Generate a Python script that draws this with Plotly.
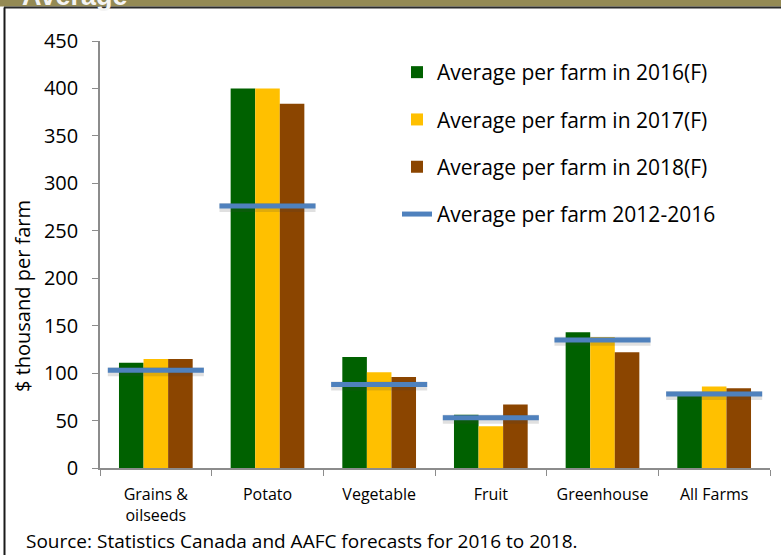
import plotly.graph_objects as go

# Average farm income by farm type, $ thousand per farm
categories = ["Grains &<br>oilseeds", "Potato", "Vegetable", "Fruit", "Greenhouse", "All Farms"]
avg_2016 = [111, 400, 117, 56, 143, 78]
avg_2017 = [115, 400, 101, 44, 138, 86]
avg_2018 = [115, 384, 96, 67, 122, 84]
avg_2012_2016 = [103, 276, 88, 53, 135, 78]

series_names = ["Average per farm in 2016(F)", "Average per farm in 2017(F)", "Average per farm in 2018(F)"]
series_colors = ["#006100", "#FFC000", "#8B4500"]
line_name = "Average per farm 2012-2016"
line_color = "#4F81BD"
y_title = "$ thousand per farm"
source_text = "Source: Statistics Canada and AAFC forecasts for 2016 to 2018."

FONT = "Open Sans"
W, H = 781, 555
ML, MR, MT, MB = 100, 11, 41, 87

fig = go.Figure()

for name, vals, col in zip(series_names, [avg_2016, avg_2017, avg_2018], series_colors):
    fig.add_trace(go.Bar(
        x=categories, y=vals, name=name, marker_color=col,
        marker_line_width=0, legendgroup=name,
    ))

# horizontal reference segments spanning each category group (numeric overlay axis)
half = 0.43
seg_x, seg_y = [], []
for i, v in enumerate(avg_2012_2016):
    seg_x += [i - half, i + half, None]
    seg_y += [v, v, None]

fig.add_trace(go.Scatter(
    x=seg_x, y=[None if v is None else v - 1.5 for v in seg_y], xaxis="x2",
    mode="lines", line=dict(color="rgba(60,60,60,0.16)", width=9),
    showlegend=False, hoverinfo="skip",
))
fig.add_trace(go.Scatter(
    x=seg_x, y=seg_y, xaxis="x2", mode="lines", name=line_name,
    line=dict(color=line_color, width=5), legendgroup=line_name,
))


def px_x(p):
    return (p - ML) / (W - ML - MR)


def px_y(p):
    return (H - MB - p) / (H - MT - MB)


shapes = [
    # olive header strip and its dark rule
    dict(type="rect", xref="paper", yref="paper", x0=px_x(0), x1=px_x(W), y0=px_y(6.5), y1=px_y(-2),
         fillcolor="#948A54", line_width=0, layer="below"),
    dict(type="line", xref="paper", yref="paper", x0=px_x(4), x1=px_x(W), y0=px_y(7.5), y1=px_y(7.5),
         line=dict(color="#2b2b2b", width=2), layer="above"),
    # left frame edge
    dict(type="line", xref="paper", yref="paper", x0=px_x(4.5), x1=px_x(4.5), y0=px_y(7.5), y1=px_y(H + 2),
         line=dict(color="#1a1a1a", width=2), layer="above"),
]

annotations = [
    dict(text="<b>Average</b>", xref="paper", yref="paper", x=px_x(20), y=px_y(13),
         xanchor="left", yanchor="bottom", showarrow=False,
         font=dict(family="Liberation Sans", size=27, color="#F4F4F4")),
    dict(text=y_title, xref="paper", yref="paper", x=px_x(22), y=px_y(296),
         xanchor="center", yanchor="middle", textangle=-90, showarrow=False,
         font=dict(family=FONT, size=20, color="#000000")),
    dict(text=source_text, xref="paper", yref="paper", x=px_x(24), y=px_y(541),
         xanchor="left", yanchor="middle", showarrow=False,
         font=dict(family=FONT, size=19, color="#000000")),
]

fig.update_layout(
    width=W, height=H,
    margin=dict(l=ML, r=MR, t=MT, b=MB),
    paper_bgcolor="white", plot_bgcolor="white",
    font=dict(family=FONT, color="#000000"),
    barmode="group", bargap=0.34, bargroupgap=0,
    shapes=shapes, annotations=annotations,
    legend=dict(
        x=px_x(397), y=px_y(52), xanchor="left", yanchor="top",
        bgcolor="rgba(0,0,0,0)", font=dict(family=FONT, size=21),
        tracegroupgap=17, traceorder="grouped",
    ),
    xaxis=dict(
        type="category", tickson="boundaries", ticks="outside", ticklen=6,
        tickcolor="#8c8c8c", showline=True, linecolor="#8c8c8c", linewidth=1.5,
        tickfont=dict(family=FONT, size=16), showgrid=False, range=[-0.5, 5.5],
        ticklabelstandoff=11,
    ),
    xaxis2=dict(overlaying="x", range=[-0.5, 5.5], visible=False),
    yaxis=dict(
        range=[0, 450], dtick=50, ticks="outside", ticklen=6, tickcolor="#8c8c8c",
        showline=True, linecolor="#8c8c8c", linewidth=1.5, showgrid=False, zeroline=False,
        tickfont=dict(family=FONT, size=20), ticklabelstandoff=10,
    ),
)

fig.write_html("out.html")
